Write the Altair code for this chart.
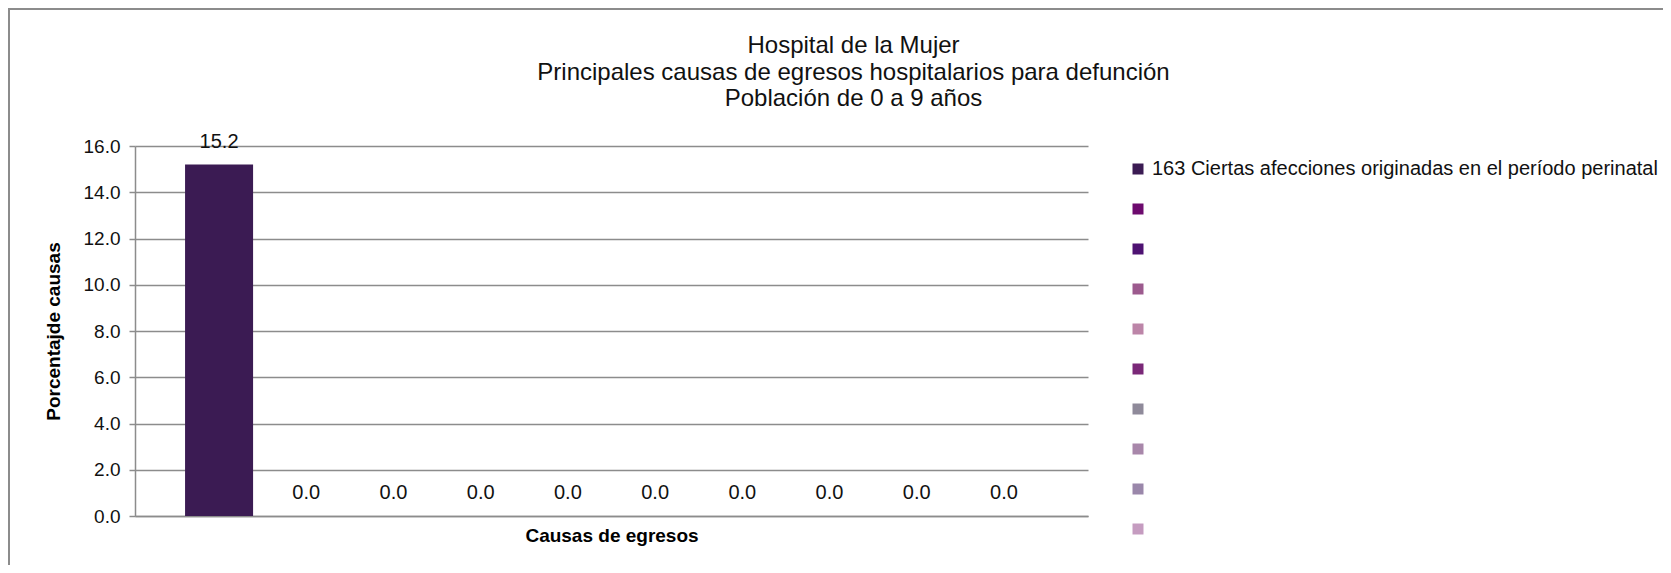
import altair as alt
import pandas as pd

series = [
    "163 Ciertas afecciones originadas en el período perinatal",
    "—2", "—3", "—4", "—5", "—6", "—7", "—8", "—9", "—10",
]
values = [15.2, 0.0, 0.0, 0.0, 0.0, 0.0, 0.0, 0.0, 0.0, 0.0]
colors = ["#3B1B53", "#6D0A6E", "#4E1272", "#9C5A8E", "#BC85A8",
          "#7A2878", "#8F8A9A", "#A887AA", "#9A87AA", "#C59CC0"]
title_lines = ["Hospital de la Mujer",
               "Principales causas de egresos hospitalarios para defunción",
               "Población de 0 a 9 años"]
y_ticks = [0, 2, 4, 6, 8, 10, 12, 14, 16]

df = pd.DataFrame({"serie": series, "valor": values})

GRAY = "#8C8C8C"
W, H = 953, 370

x_enc = alt.X("serie:N",
              scale=alt.Scale(domain=series, paddingInner=0.22, paddingOuter=0.574),
              axis=alt.Axis(labels=False, ticks=False, title="Causas de egresos",
                            domainColor=GRAY, domainWidth=1.5,
                            titleFontWeight="bold", titleFontSize=19,
                            titleY=19, titleBaseline="middle"))
y_enc = alt.Y("valor:Q",
              scale=alt.Scale(domain=[0, 16], nice=False),
              axis=alt.Axis(values=y_ticks, format=".1f", title="Porcentajde causas",
                            domainColor=GRAY, domainWidth=1.5,
                            tickColor=GRAY, tickSize=6, tickWidth=1.5,
                            gridColor=GRAY, gridWidth=1.5,
                            labelFontSize=19, labelColor="#111", labelPadding=9,
                            titleFontWeight="bold", titleFontSize=19,
                            titleX=-82, titleBaseline="middle"))

bars = alt.Chart(df).mark_bar().encode(
    x=x_enc,
    y=y_enc,
    color=alt.Color("serie:N",
                    scale=alt.Scale(domain=series, range=colors),
                    legend=alt.Legend(
                        title=None, orient="none", legendX=993, legendY=13,
                        symbolType="square", symbolSize=121, symbolStrokeWidth=0,
                        symbolOpacity=1, labelFontSize=20, labelColor="#111",
                        labelOffset=4, rowPadding=20, padding=0,
                        labelLimit=700,
                        labelExpr="indexof(datum.label, '163') === 0 ? datum.label : ''")),
)

labels = alt.Chart(df).mark_text(dy=-23, fontSize=20, color="#111", baseline="middle").encode(
    x=alt.X("serie:N", scale=alt.Scale(domain=series)),
    y="valor:Q",
    text=alt.Text("valor:Q", format=".1f"),
)

border = alt.Chart(alt.Data(values=[{}])).mark_rect(
    fill="transparent", stroke=GRAY, strokeWidth=2
).encode(x=alt.value(-126), x2=alt.value(1700), y=alt.value(-137), y2=alt.value(700))

chart = alt.layer(border, bars, labels).properties(
    width=W, height=H,
    title=alt.TitleParams(text=title_lines, anchor="middle", dx=242, offset=0, dy=103,
                          fontSize=24, fontWeight="normal", lineHeight=26.5,
                          color="#111"),
    padding={"left": 127, "top": 138, "right": 575, "bottom": 49},
    autosize=alt.AutoSizeParams(type="none"),
).configure(font="Liberation Sans").configure_view(stroke=None)

chart.save("out.html", embed_options={"renderer": "svg", "actions": False})
